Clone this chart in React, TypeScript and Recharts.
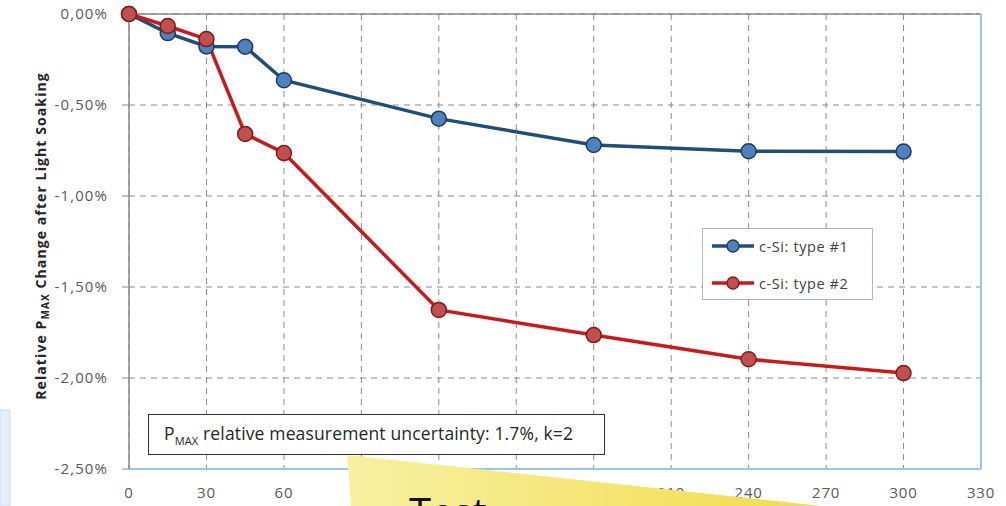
import React from "react";
import { LineChart, Line, XAxis, YAxis, CartesianGrid, ReferenceLine } from "recharts";

// light soaking time (min) and relative Pmax change (%)
const timeMin = [0, 15, 30, 45, 60, 120, 180, 240, 300];
const type1 = [0, -0.105, -0.178, -0.18, -0.364, -0.575, -0.72, -0.754, -0.756];
const type2 = [0, -0.066, -0.138, -0.659, -0.764, -1.626, -1.764, -1.897, -1.973];

const xTicks = [0, 30, 60, 90, 120, 150, 180, 210, 240, 270, 300, 330];
const xMinor = [0, 10, 20, 30, 40, 50, 60, 70, 80, 90, 100, 110, 120, 130, 140, 150, 160, 170, 180, 190, 200, 210, 220, 230, 240, 250, 260, 270, 280, 290, 300, 310, 320, 330];
const yTicks = [0, -0.5, -1, -1.5, -2, -2.5];
const yMinor = [0, -0.1, -0.2, -0.3, -0.4, -0.5, -0.6, -0.7, -0.8, -0.9, -1, -1.1, -1.2, -1.3, -1.4, -1.5, -1.6, -1.7, -1.8, -1.9, -2, -2.1, -2.2, -2.3, -2.4, -2.5];

const seriesNames = ["c-Si: type #1", "c-Si: type #2"];
const lineColors = ["#1f4e79", "#c8191b"];
const dotFills = ["#4f81bd", "#c0504d"];
const dotStrokes = ["#1f3864", "#861717"];

const rows = timeMin.map((t, i) => ({ t, type1: type1[i], type2: type2[i] }));

const W = 1006;
const H = 506;
const FONT = "'Open Sans', sans-serif";
const GRAY = "#595959";
const AXIS = "#8a8a8a";
const BORDER = "#9dc3e6";

const pct = (v: number) => v.toFixed(2).replace(".", ",") + "%";

function LegendBox() {
  return (
    <div
      style={{
        position: "absolute",
        left: 702,
        top: 228,
        width: 171,
        height: 72,
        border: "1.5px solid #a7b7cc",
        background: "#fff",
        boxSizing: "border-box",
        fontFamily: FONT,
        fontSize: 14.5,
        letterSpacing: 0.6,
        color: "#404040",
      }}
    >
      {seriesNames.map((name, i) => (
        <div key={name} style={{ display: "flex", alignItems: "center", height: 34, paddingLeft: 8, marginTop: i === 0 ? 0 : 3 }}>
          <svg width={44} height={16}>
            <line x1={1} y1={8} x2={43} y2={8} stroke={lineColors[i]} strokeWidth={3.5} />
            <circle cx={22} cy={8} r={6} fill={dotFills[i]} stroke={dotStrokes[i]} strokeWidth={1.3} />
          </svg>
          <span style={{ marginLeft: 4 }}>{name}</span>
        </div>
      ))}
    </div>
  );
}

export default function App() {
  return (
    <div style={{ position: "absolute", left: 0, top: 0, width: W, height: H, background: "#fff", overflow: "hidden" }}>
      <LineChart width={W} height={H} data={rows} margin={{ top: 14, right: 25, bottom: 7, left: 0 }}>
        <CartesianGrid stroke={AXIS} strokeDasharray="6 5" />
        <XAxis
          dataKey="t"
          type="number"
          domain={[0, 330]}
          ticks={xTicks}
          height={30}
          axisLine={{ stroke: BORDER, strokeWidth: 2 }}
          tickLine={false}
          tickMargin={12}
          tick={{ fill: GRAY, fontSize: 15, fontFamily: FONT, letterSpacing: 0.8 }}
        />
        <XAxis
          xAxisId="top"
          orientation="top"
          type="number"
          domain={[0, 330]}
          ticks={xMinor}
          height={0}
          mirror
          tick={false}
          tickSize={5}
          axisLine={{ stroke: AXIS, strokeWidth: 1.5 }}
          tickLine={{ stroke: AXIS }}
        />
        <YAxis
          type="number"
          domain={[-2.5, 0]}
          ticks={yTicks}
          width={129}
          tickFormatter={pct}
          axisLine={{ stroke: AXIS, strokeWidth: 1.5 }}
          tickLine={{ stroke: AXIS }}
          tickSize={7}
          tickMargin={14}
          tick={{ fill: GRAY, fontSize: 15, fontFamily: FONT, letterSpacing: 1.1 }}
        />
        <YAxis
          yAxisId="minor"
          type="number"
          domain={[-2.5, 0]}
          ticks={yMinor}
          mirror
          width={0}
          tick={false}
          tickSize={5}
          axisLine={false}
          tickLine={{ stroke: AXIS }}
        />
        <ReferenceLine y={0} stroke={AXIS} strokeWidth={1.5} />
        <ReferenceLine x={330} stroke={BORDER} strokeWidth={2} />
        <Line
          dataKey="type1"
          name={seriesNames[0]}
          stroke={lineColors[0]}
          strokeWidth={3.5}
          dot={{ r: 7.5, fill: dotFills[0], stroke: dotStrokes[0], strokeWidth: 1.5 }}
          isAnimationActive={false}
        />
        <Line
          dataKey="type2"
          name={seriesNames[1]}
          stroke={lineColors[1]}
          strokeWidth={3.5}
          dot={{ r: 7.5, fill: dotFills[1], stroke: dotStrokes[1], strokeWidth: 1.5 }}
          isAnimationActive={false}
        />
      </LineChart>

      <LegendBox />

      <div
        style={{
          position: "absolute",
          left: 148,
          top: 414,
          width: 457,
          height: 41,
          border: "1.5px solid #333",
          background: "#fff",
          boxSizing: "border-box",
          fontFamily: FONT,
          fontSize: 17.5,
          letterSpacing: 0.15,
          color: "#262626",
          display: "flex",
          alignItems: "center",
          paddingLeft: 15,
          whiteSpace: "nowrap",
        }}
      >
        <span>
          P<sub style={{ fontSize: 11 }}>MAX</sub> relative measurement uncertainty: 1.7%, k=2
        </span>
      </div>

      <svg width={W} height={H} style={{ position: "absolute", left: 0, top: 0, pointerEvents: "none" }}>
        <defs>
          <linearGradient id="note" x1="0" y1="0" x2="1" y2="0">
            <stop offset="0" stopColor="#f8f0a2" />
            <stop offset="1" stopColor="#f1dc4c" />
          </linearGradient>
          <clipPath id="noteClip">
            <polygon points="347,455 822,506 351,506" />
          </clipPath>
        </defs>
        <polygon points="347,455 822,506 351,506" fill="url(#note)" />
        <text x={409} y={527} fontFamily={FONT} fontSize={40} fill="#111" clipPath="url(#noteClip)">
          Test
        </text>
        <rect x={0} y={410} width={10} height={96} fill="#e4eef9" stroke="#c9dcf0" />
        <text
          transform="translate(46,236) rotate(-90)"
          textAnchor="middle"
          fontFamily={FONT}
          fontWeight={700}
          fontSize={14}
          letterSpacing={1.1}
          fill="#262626"
        >
          Relative P
          <tspan fontSize={10} dy={3}>MAX</tspan>
          <tspan dy={-3}> Change after Light Soaking</tspan>
        </text>
      </svg>
    </div>
  );
}
